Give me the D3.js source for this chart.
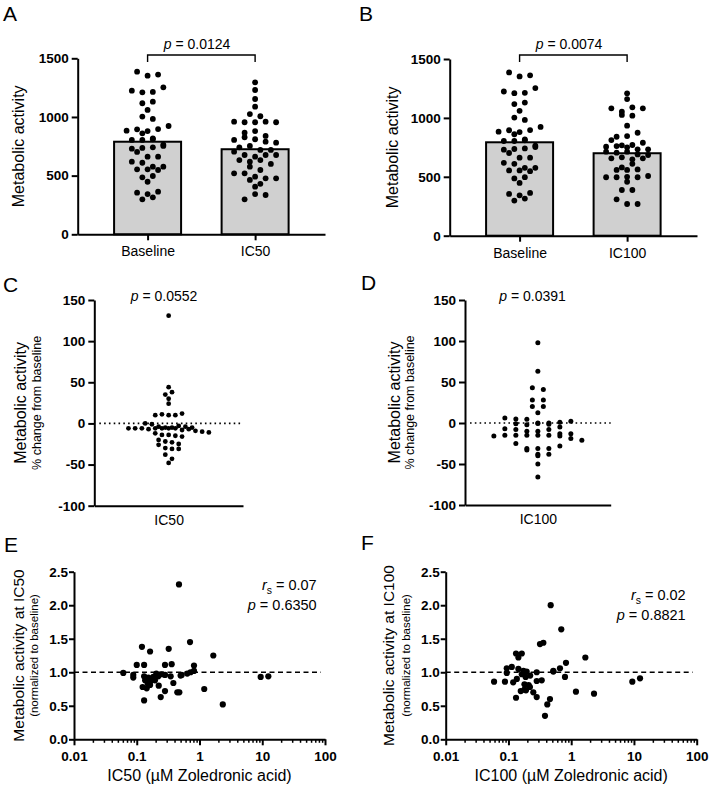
<!DOCTYPE html>
<html>
<head>
<meta charset="utf-8">
<script src="https://cdn.jsdelivr.net/npm/d3@7"></script>
<style>
  body { margin: 0; background: #fff; }
  svg { display: block; font-family: "Liberation Sans", Arial, Helvetica, sans-serif; }
</style>
</head>
<body>
<svg id="fig" width="709" height="788"></svg>
<script>
(function () {
  'use strict';

  // ---- data ----
  const barCats50 = ['Baseline', 'IC50'];
  const barCats100 = ['Baseline', 'IC100'];
  const baselineVals = [1386, 1352, 1361, 1224, 1210, 1213, 1253, 1117, 1130, 1060, 1003, 983,
    883, 895, 880, 897, 923, 861, 804, 818, 804, 810, 764, 730, 736, 741, 753, 702, 662, 662,
    619, 610, 576, 576, 554, 554, 548, 486, 497, 448, 355, 343, 363, 298, 315];
  const ic50Vals = [1295, 1230, 1153, 1088, 1025, 960, 955, 955, 960, 1006, 955, 866, 880, 804,
    838, 827, 810, 789, 781, 741, 753, 719, 704, 719, 676, 662, 676, 676, 633, 619, 633, 576,
    600, 520, 520, 548, 491, 477, 463, 477, 406, 430, 298, 343, 335];
  const ic100Vals = [1209, 1160, 1081, 1053, 1090, 1081, 1025, 1019, 934, 840, 846, 874, 812,
    767, 755, 761, 770, 750, 789, 733, 733, 713, 705, 713, 690, 657, 665, 648, 657, 685, 580,
    558, 558, 563, 610, 496, 496, 500, 496, 507, 458, 388, 388, 309, 269, 269];
  const barMeansA = [789, 725];
  const barMeansB = [793, 700];
  const barTicks = [0, 500, 1000, 1500];

  const changeIC50 = [131, 44, 35, 38, 30, 24, 10, 11, 10, 10, 12, 0, -1,
    -4, -5, -6, -6, -6, -7, -6, -6, -5, -6, -3, -4, -6, -8, -5, -7,
    -9, -10, -11, -12, -14, -14, -15, -16, -20, -22, -23, -26, -25, -30, -31, -31, -38, -43, -48];
  const changeIC100 = [98, 63, 43, 41, 28, 28, 20, 20, 12.6, 6, 5, 4.5,
    0, -1, -2, 0, 1, 2, -0.5, -1.5, -7, -8, -5, -10, -10, -8,
    -13, -16, -15, -15, -15, -15, -13, -15, -16, -19,
    -21, -25, -31, -31, -31, -33, -28, -38, -40, -38, -50, -66];
  const changeTicks = [-100, -50, 0, 50, 100, 150];

  const corrIC50 = [[0.471, 2.31], [0.706, 1.45], [0.121, 1.38], [0.163, 1.31], [0.323, 1.35],
    [1.66, 1.25], [0.10, 1.11], [0.131, 1.11], [0.282, 1.11], [0.36, 1.12], [0.817, 1.10],
    [0.061, 0.99], [0.088, 0.96], [0.088, 0.92], [0.131, 0.94], [0.153, 0.92], [0.184, 0.93],
    [0.220, 0.94], [0.136, 0.88], [0.163, 0.86], [0.195, 0.88], [0.282, 0.96], [0.347, 0.94],
    [0.52, 0.96], [0.638, 0.98], [0.817, 1.02], [0.72, 1.0], [0.124, 0.78], [0.144, 0.76],
    [0.163, 0.81], [0.224, 0.80], [0.383, 0.84], [0.282, 0.72], [0.241, 0.63], [0.443, 0.70],
    [0.477, 0.70], [0.131, 0.58], [1.19, 0.75], [2.35, 0.52], [9.44, 0.93], [12.5, 0.94],
    [0.17, 0.90], [0.205, 0.98], [0.15, 0.83], [0.5, 0.95], [0.25, 0.97]];
  const corrIC100 = [[0.471, 2.0], [0.695, 1.64], [0.318, 1.42], [0.36, 1.44], [0.132, 1.28],
    [0.163, 1.28], [0.144, 1.22], [1.68, 1.22], [0.826, 1.14], [0.662, 1.06], [0.519, 1.02],
    [0.094, 1.06], [0.113, 1.08], [0.144, 1.05], [0.094, 0.99], [0.173, 1.02], [0.195, 1.01],
    [0.282, 1.0], [0.519, 1.01], [0.163, 0.97], [0.188, 0.93], [0.222, 0.95], [0.796, 0.93],
    [0.059, 0.86], [0.088, 0.86], [0.119, 0.85], [0.136, 0.90], [0.282, 0.87], [0.339, 0.88],
    [0.18, 0.82], [0.21, 0.81], [0.157, 0.72], [0.18, 0.74], [0.22, 0.78], [0.19, 0.73],
    [0.249, 0.70], [0.282, 0.63], [0.132, 0.62], [0.459, 0.60], [0.416, 0.52], [0.382, 0.35],
    [1.19, 0.71], [2.31, 0.68], [9.42, 0.86], [12.5, 0.91]];
  const ratioTicks = [0, 0.5, 1, 1.5, 2, 2.5];
  const logTicks = [0.01, 0.1, 1, 10, 100];
  const logTickLabels = ['0.01', '0.1', '1', '10', '100'];

  const svg = d3.select('#fig');

  // GraphPad-like column scatter: values binned by pixel row, spread evenly in each bin
  function swarm(vals, y, binPx, spacing) {
    const order = vals.map((_, i) => i).sort((a, b) => vals[b] - vals[a]);
    const off = new Array(vals.length);
    let bin = [], startY = null;
    const flush = () => {
      bin.sort((a, b) => a - b);
      bin.forEach((k, j) => { off[k] = (j - (bin.length - 1) / 2) * spacing; });
      bin = [];
    };
    order.forEach((k) => {
      const py = y(vals[k]);
      if (startY === null || py - startY > binPx) { flush(); startY = py; }
      bin.push(k);
    });
    flush();
    return off;
  }

  function styleAxis(a, fs, bold) {
    a.select('.domain').attr('stroke', '#000').attr('stroke-width', 2);
    a.selectAll('.tick line').attr('stroke', '#000').attr('stroke-width', 2);
    a.selectAll('.tick text').attr('fill', '#000')
      .style('font-size', fs + 'px').style('font-weight', bold ? 'bold' : 'normal');
  }

  function letter(s, x, y) {
    svg.append('text').attr('x', x).attr('y', y).style('font-size', '21px').text(s);
  }

  function pText(g, x, y, label, val, size, anchor) {
    const t = g.append('text').attr('x', x).attr('y', y)
      .attr('text-anchor', anchor || 'middle').style('font-size', size + 'px');
    t.append('tspan').style('font-style', 'italic').text(label);
    t.append('tspan').text(' = ' + val);
    return t;
  }

  function rsText(g, x, y, val, size) {
    const t = g.append('text').attr('x', x).attr('y', y)
      .attr('text-anchor', 'end').style('font-size', size + 'px');
    t.append('tspan').style('font-style', 'italic').text('r');
    t.append('tspan').attr('dy', 4).style('font-size', (size * 0.72) + 'px').text('s');
    t.append('tspan').attr('dy', -4).text(' = ' + val);
  }

  function yTitle(g, x, y, s, size) {
    g.append('text').attr('transform', `translate(${x},${y}) rotate(-90)`)
      .attr('text-anchor', 'middle').attr('dy', '0.35em')
      .style('font-size', size + 'px').text(s);
  }

  function barPanel(L, cats, groups, means, pVal) {
    const g = svg.append('g');
    const y = d3.scaleLinear().domain([0, 1500]).range([L.yBot, L.yTop]);
    const x = d3.scalePoint().domain(cats).range([L.x0, L.x1]).padding(0.65);
    const barW = 67;

    g.selectAll('rect').data(means).join('rect')
      .attr('x', (d, i) => x(cats[i]) - barW / 2).attr('y', (d) => y(d))
      .attr('width', barW).attr('height', (d) => y(0) - y(d))
      .attr('fill', '#d0d0d0').attr('stroke', '#000').attr('stroke-width', 2);

    const ay = g.append('g').attr('transform', `translate(${L.x0},0)`)
      .call(d3.axisLeft(y).tickValues(barTicks).tickSize(6).tickSizeOuter(0).tickPadding(3).tickFormat((d) => String(d)));
    styleAxis(ay, 13.5, true);
    const ax = g.append('g').attr('transform', `translate(0,${L.yBot})`)
      .call(d3.axisBottom(x).tickSize(6).tickSizeOuter(0).tickPadding(6));
    styleAxis(ax, 14, false);

    groups.forEach((vals, i) => {
      const off = swarm(vals, y, 5.5, 10.5);
      g.append('g').selectAll('circle').data(vals).join('circle')
        .attr('cx', (d, k) => x(cats[i]) + off[k]).attr('cy', (d) => y(d))
        .attr('r', 2.9).attr('fill', '#000');
    });

    // significance bracket
    const bx1 = x(cats[0]), bx2 = x(cats[1]);
    g.append('path').attr('d', `M${bx1},62V55H${bx2}V62`)
      .attr('fill', 'none').attr('stroke', '#000').attr('stroke-width', 1.4);
    pText(g, L.pX, 48.5, 'p', pVal, 14);
    yTitle(g, L.titleX, (L.yTop + L.yBot) / 2, 'Metabolic activity', 16);
  }

  function changePanel(L, cat, vals, pVal) {
    const g = svg.append('g');
    const y = d3.scaleLinear().domain([-100, 150]).range([L.yBot, L.yTop]);
    const x = d3.scalePoint().domain([cat]).range([L.x0, L.x1]).padding(0.5);

    g.append('line').attr('x1', L.x0 + 5).attr('x2', L.x1).attr('y1', y(0)).attr('y2', y(0))
      .attr('stroke', '#000').attr('stroke-width', 1.6)
      .attr('stroke-dasharray', '1.6 3.2');

    const ay = g.append('g').attr('transform', `translate(${L.x0},0)`)
      .call(d3.axisLeft(y).tickValues(changeTicks).tickSize(6).tickSizeOuter(0).tickPadding(3).tickFormat((d) => String(d)));
    styleAxis(ay, 13.5, true);
    const ax = g.append('g').attr('transform', `translate(0,${L.yBot})`)
      .call(d3.axisBottom(x).tickSize(0).tickSizeOuter(0).tickPadding(9.5));
    styleAxis(ax, 14, false);

    const off = swarm(vals, y, L.binPx, L.spacing);
    g.append('g').selectAll('circle').data(vals).join('circle')
      .attr('cx', (d, k) => x(cat) + off[k]).attr('cy', (d) => y(d))
      .attr('r', L.r).attr('fill', '#000');

    pText(g, L.pX, 300.5, 'p', pVal, 14);
    yTitle(g, L.titleX, (L.yTop + L.yBot) / 2, 'Metabolic activity', 16);
    yTitle(g, L.subX, (L.yTop + L.yBot) / 2, '% change from baseline', 12.5);
  }

  function corrPanel(L, pts, name, rsVal, pVal) {
    const g = svg.append('g');
    const x = d3.scaleLog().domain([0.01, 100]).range([L.x0, L.x1]);
    const y = d3.scaleLinear().domain([0, 2.5]).range([L.yBot, L.yTop]);

    g.append('line').attr('x1', L.x0).attr('x2', L.x1 - 4).attr('y1', y(1)).attr('y2', y(1))
      .attr('stroke', '#000').attr('stroke-width', 1.6).attr('stroke-dasharray', '5 3.5');

    const ay = g.append('g').attr('transform', `translate(${L.x0},0)`)
      .call(d3.axisLeft(y).tickValues(ratioTicks).tickSize(5).tickSizeOuter(0).tickPadding(1).tickFormat(d3.format('.1f')));
    styleAxis(ay, 13.5, true);

    const isMajor = (d) => logTicks.some((v) => Math.abs(v - d) / v < 1e-6);
    const ax = g.append('g').attr('transform', `translate(0,${L.yBot})`)
      .call(d3.axisBottom(x).tickValues(x.ticks()).tickSize(6).tickSizeOuter(0).tickPadding(6.5)
        .tickFormat((d) => {
          const i = logTicks.findIndex((v) => Math.abs(v - d) / v < 1e-6);
          return i >= 0 ? logTickLabels[i] : '';
        }));
    styleAxis(ax, 13.5, true);
    ax.selectAll('.tick line')
      .attr('y2', (d) => (isMajor(d) ? 6 : 3.5))
      .attr('stroke-width', (d) => (isMajor(d) ? 2 : 1.5));

    g.append('g').selectAll('circle').data(pts).join('circle')
      .attr('cx', (d) => x(d[0])).attr('cy', (d) => y(d[1]))
      .attr('r', 3.1).attr('fill', '#000');

    rsText(g, L.annX, L.annY, rsVal, 14.5);
    pText(g, L.annX, L.annY + 20, 'p', pVal, 14.5, 'end');

    g.append('text').attr('x', (L.x0 + L.x1) / 2).attr('y', 781)
      .attr('text-anchor', 'middle').style('font-size', '16px')
      .text(name + ' (\u00b5M Zoledronic acid)');
    yTitle(g, L.titleX, (L.yTop + L.yBot) / 2, 'Metabolic activity at ' + name, 15.5);
    yTitle(g, L.subX, (L.yTop + L.yBot) / 2, '(normalized to baseline)', 11.5);
  }

  barPanel({ x0: 77.7, x1: 325, yTop: 58.3, yBot: 234.3, pX: 197, titleX: 18 },
    barCats50, [baselineVals, ic50Vals], barMeansA, '0.0124');
  barPanel({ x0: 449.7, x1: 697, yTop: 59, yBot: 235.7, pX: 569, titleX: 392 },
    barCats100, [baselineVals, ic100Vals], barMeansB, '0.0074');
  changePanel({ x0: 94.3, x1: 243, yTop: 300, yBot: 505.7, pX: 164, titleX: 20.7, subX: 36.7, binPx: 4.5, spacing: 6.7, r: 2.4 },
    'IC50', changeIC50, '0.0552');
  changePanel({ x0: 465, x1: 610.7, yTop: 300, yBot: 505, pX: 532.5, titleX: 394, subX: 409.5, binPx: 5, spacing: 11, r: 2.5 },
    'IC100', changeIC100, '0.0391');
  corrPanel({ x0: 74, x1: 325, yTop: 571.7, yBot: 739.3, titleX: 18.3, subX: 34.3, annX: 316.7, annY: 590 },
    corrIC50, 'IC50', '0.07', '0.6350');
  corrPanel({ x0: 445.7, x1: 696.7, yTop: 571.7, yBot: 739.3, titleX: 389, subX: 405.7, annX: 685.7, annY: 600 },
    corrIC100, 'IC100', '0.02', '0.8821');

  letter('A', 3, 21);
  letter('B', 359, 20.5);
  letter('C', 3, 291.5);
  letter('D', 361, 290);
  letter('E', 4, 551.5);
  letter('F', 361, 550);
})();
</script>
</body>
</html>
